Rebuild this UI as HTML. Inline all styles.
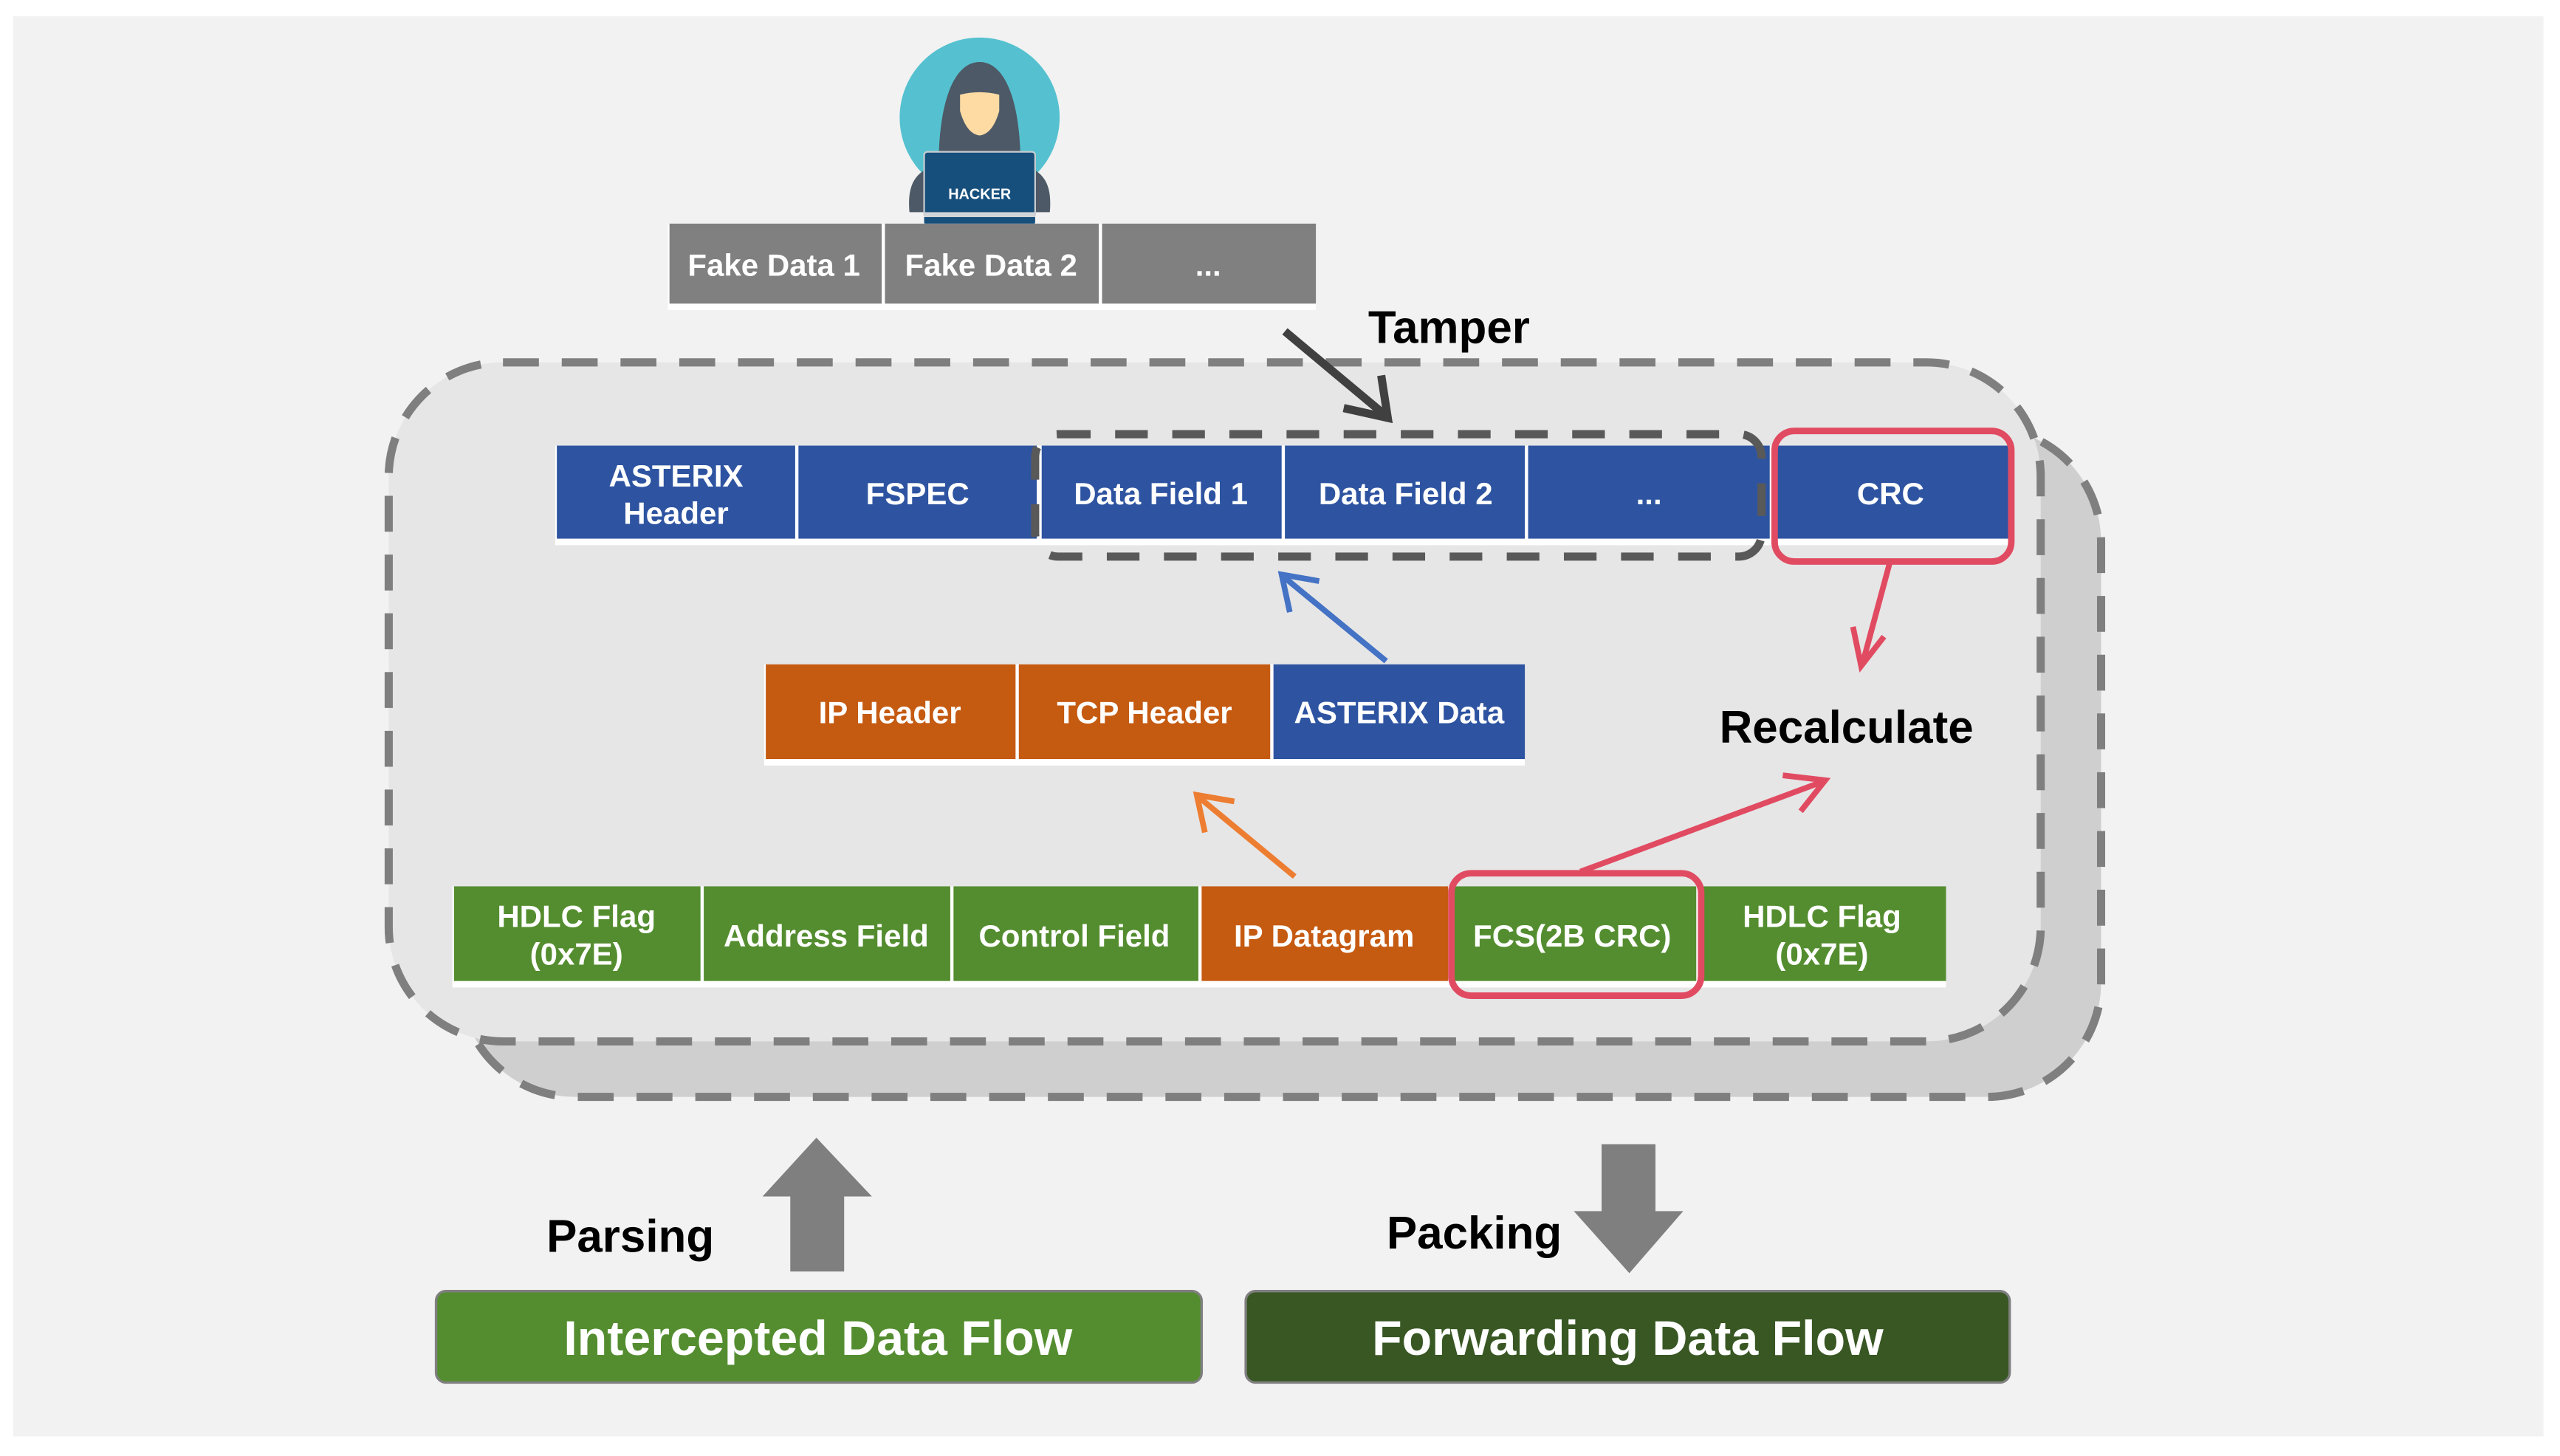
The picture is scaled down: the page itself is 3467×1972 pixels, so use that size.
<!DOCTYPE html>
<html><head><meta charset="utf-8"><style>
html,body{margin:0;padding:0;background:#fff;}
svg{display:block;}
text{font-family:"Liberation Sans",Arial,sans-serif;font-weight:bold;}
</style></head><body>
<svg width="3467" height="1972" viewBox="0 0 1568 892" xmlns="http://www.w3.org/2000/svg">
<rect x="8" y="10" width="1550" height="870" fill="#f2f2f2"/>
<!-- back group -->
<rect x="282" y="262" width="1005" height="410" rx="70" fill="#d0cfcf" stroke="#7f7f7f" stroke-width="5" stroke-dasharray="22 14"/>
<rect x="238" y="222" width="1012" height="416" rx="70" fill="#e6e6e6" stroke="#7f7f7f" stroke-width="5" stroke-dasharray="22 14"/>

<!-- hacker -->
<circle cx="600" cy="72" r="49" fill="#55c1d0"/>
<path d="M600 38 C585 38 576 60 575 95 L565 105 C558 110 556 118 557 130 L643 130 C644 118 642 110 635 105 L625 95 C624 60 615 38 600 38Z" fill="#4d5966"/>
<path d="M588 58 Q600 55 612 58 L612 68 Q608 82 600 83 Q592 82 588 68Z" fill="#fddba3"/>
<rect x="566" y="93" width="68" height="40" rx="2" fill="#164f7c" stroke="#c8ccd0" stroke-width="1"/>
<rect x="566" y="130" width="68" height="8" rx="2" fill="#164f7c"/>
<rect x="566" y="130" width="68" height="3" fill="#d0d4d8"/>
<text x="600" y="122" font-size="9" fill="#fff" text-anchor="middle">HACKER</text>

<!-- fake data -->
<g font-size="19" fill="#fff" text-anchor="middle">
<rect x="409" y="137" width="397" height="53" fill="#fff"/>
<rect x="410" y="137" width="130" height="49" fill="#808080"/>
<rect x="542" y="137" width="131" height="49" fill="#808080"/>
<rect x="675" y="137" width="131" height="49" fill="#808080"/>
<text x="474" y="169">Fake Data 1</text>
<text x="607" y="169">Fake Data 2</text>
<text x="740" y="169">...</text>
</g>

<!-- Tamper arrow -->
<line x1="787" y1="203" x2="848" y2="254" stroke="#404040" stroke-width="5"/>
<polyline points="823,250 850,256 846,230" fill="none" stroke="#404040" stroke-width="5"/>
<text x="838" y="210" font-size="28" fill="#000">Tamper</text>

<!-- ASTERIX row -->
<rect x="340" y="273" width="892" height="61" fill="#fff"/>
<g fill="#2e54a1">
<rect x="341" y="273" width="146" height="57"/>
<rect x="489" y="273" width="146" height="57"/>
<rect x="638" y="273" width="147" height="57"/>
<rect x="787" y="273" width="147" height="57"/>
<rect x="936" y="273" width="148" height="57"/>
<rect x="1086" y="273" width="146" height="57"/>
</g>
<g font-size="19" fill="#fff" text-anchor="middle">
<text x="414" y="298">ASTERIX</text><text x="414" y="321">Header</text>
<text x="562" y="309">FSPEC</text>
<text x="711" y="309">Data Field 1</text>
<text x="861" y="309">Data Field 2</text>
<text x="1010" y="309">...</text>
<text x="1158" y="309">CRC</text>
</g>
<rect x="634" y="266" width="445" height="75" rx="14" fill="none" stroke="#595959" stroke-width="5" stroke-dasharray="20 15"/>
<rect x="1087" y="264" width="145" height="80" rx="12" fill="none" stroke="#e14b62" stroke-width="4"/>

<!-- middle row -->
<rect x="468" y="407" width="466" height="62" fill="#fff"/>
<rect x="469" y="407" width="153" height="58" fill="#c55a11"/>
<rect x="624" y="407" width="154" height="58" fill="#c55a11"/>
<rect x="780" y="407" width="154" height="58" fill="#2e54a1"/>
<g font-size="19" fill="#fff" text-anchor="middle">
<text x="545" y="443">IP Header</text>
<text x="701" y="443">TCP Header</text>
<text x="857" y="443">ASTERIX Data</text>
</g>

<!-- blue arrow -->
<line x1="849" y1="405" x2="787" y2="354" stroke="#4472c4" stroke-width="3.5"/>
<polyline points="790,375 785,352 808,356" fill="none" stroke="#4472c4" stroke-width="3.5"/>
<!-- orange arrow -->
<line x1="793" y1="537" x2="735" y2="489" stroke="#ed7d31" stroke-width="3.5"/>
<polyline points="738,510 733,487 756,491" fill="none" stroke="#ed7d31" stroke-width="3.5"/>

<!-- bottom row -->
<rect x="277" y="543" width="915" height="62" fill="#fff"/>
<g fill="#548d2f">
<rect x="278" y="543" width="151" height="58"/>
<rect x="431" y="543" width="151" height="58"/>
<rect x="584" y="543" width="150" height="58"/>
<rect x="889" y="543" width="150" height="58"/>
<rect x="1041" y="543" width="151" height="58"/>
</g>
<rect x="736" y="543" width="151" height="58" fill="#c55a11"/>
<g font-size="19" fill="#fff" text-anchor="middle">
<text x="353" y="568">HDLC Flag</text><text x="353" y="591">(0x7E)</text>
<text x="506" y="580">Address Field</text>
<text x="658" y="580">Control Field</text>
<text x="811" y="580">IP Datagram</text>
<text x="963" y="580">FCS(2B CRC)</text>
<text x="1116" y="568">HDLC Flag</text><text x="1116" y="591">(0x7E)</text>
</g>
<rect x="889" y="535" width="153" height="75" rx="12" fill="none" stroke="#e14b62" stroke-width="4"/>

<!-- red arrows -->
<line x1="1158" y1="343" x2="1141" y2="406" stroke="#e14b62" stroke-width="3.5"/>
<polyline points="1135,384 1140,408 1154,390" fill="none" stroke="#e14b62" stroke-width="3.5"/>
<line x1="968" y1="534" x2="1116" y2="479" stroke="#e14b62" stroke-width="3.5"/>
<polyline points="1092,475 1118,478 1103,497" fill="none" stroke="#e14b62" stroke-width="3.5"/>
<text x="1131" y="455" font-size="28" fill="#000" text-anchor="middle">Recalculate</text>

<!-- parsing / packing -->
<polygon points="500,697 534,733 517,733 517,779 484,779 484,733 467,733" fill="#7f7f7f"/>
<text x="386" y="767" font-size="28" fill="#000" text-anchor="middle">Parsing</text>
<polygon points="981,701 1014,701 1014,742 1031,742 998,780 964,742 981,742" fill="#7f7f7f"/>
<text x="903" y="765" font-size="28" fill="#000" text-anchor="middle">Packing</text>

<rect x="267" y="791" width="469" height="56" rx="6" fill="#548d2f" stroke="#7f7f7f" stroke-width="1.5"/>
<text x="501" y="830" font-size="30" fill="#fff" text-anchor="middle">Intercepted Data Flow</text>
<rect x="763" y="791" width="468" height="56" rx="6" fill="#385723" stroke="#7f7f7f" stroke-width="1.5"/>
<text x="997" y="830" font-size="30" fill="#fff" text-anchor="middle">Forwarding Data Flow</text>
</svg>
</body></html>
